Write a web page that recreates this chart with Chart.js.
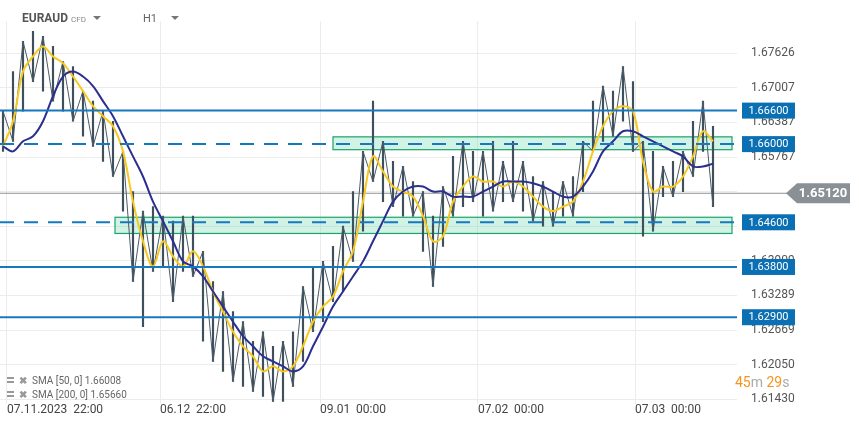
<!DOCTYPE html>
<html><head><meta charset="utf-8">
<script src="https://cdn.jsdelivr.net/npm/chart.js@4/dist/chart.umd.min.js"></script>
<style>body{margin:0;background:#fff}canvas{display:block}</style>
</head><body><canvas id="c" width="859" height="427"></canvas>
<script>
const highs=[1.6659,1.6730,1.6784,1.6802,1.6793,1.6775,1.6748,1.6739,1.6695,1.6677,1.6659,1.6641,1.6587,1.6515,1.6480,1.6488,1.6471,1.6462,1.6471,1.6471,1.6408,1.6354,1.6336,1.6300,1.6282,1.6247,1.6264,1.6238,1.6247,1.6264,1.6345,1.6381,1.6390,1.6417,1.6453,1.6515,1.6587,1.6677,1.6605,1.6569,1.6560,1.6533,1.6515,1.6471,1.6524,1.6578,1.6605,1.6587,1.6587,1.6605,1.6569,1.6605,1.6569,1.6542,1.6533,1.6515,1.6533,1.6542,1.6605,1.6677,1.6704,1.6695,1.6739,1.6712,1.6605,1.6587,1.6560,1.6569,1.6587,1.6641,1.6677,1.6632];
const lows=[1.6587,1.6605,1.6659,1.6712,1.6695,1.6677,1.6659,1.6641,1.6614,1.6596,1.6569,1.6542,1.6480,1.6354,1.6273,1.6372,1.6381,1.6318,1.6372,1.6363,1.6247,1.6211,1.6193,1.6175,1.6166,1.6157,1.6148,1.6139,1.6139,1.6166,1.6211,1.6264,1.6282,1.6318,1.6336,1.6390,1.6444,1.6533,1.6497,1.6488,1.6471,1.6471,1.6408,1.6345,1.6417,1.6471,1.6488,1.6497,1.6471,1.6480,1.6497,1.6497,1.6480,1.6462,1.6453,1.6453,1.6471,1.6471,1.6515,1.6587,1.6605,1.6614,1.6641,1.6587,1.6435,1.6444,1.6506,1.6506,1.6515,1.6542,1.6587,1.6488];
const sma50=[1.6596,1.6641,1.6730,1.6757,1.6775,1.6757,1.6745,1.6721,1.6695,1.6668,1.6650,1.6632,1.6587,1.6497,1.6426,1.6381,1.6426,1.6399,1.6381,1.6408,1.6381,1.6336,1.6300,1.6264,1.6238,1.6220,1.6193,1.6202,1.6193,1.6202,1.6238,1.6282,1.6309,1.6327,1.6372,1.6408,1.6497,1.6578,1.6551,1.6524,1.6515,1.6506,1.6471,1.6426,1.6435,1.6497,1.6524,1.6542,1.6533,1.6533,1.6524,1.6533,1.6524,1.6506,1.6488,1.6480,1.6488,1.6497,1.6533,1.6587,1.6632,1.6659,1.6668,1.6659,1.6569,1.6515,1.6524,1.6524,1.6542,1.6578,1.6623,1.6605];
const sma200=[1.6596,1.6587,1.6605,1.6614,1.6641,1.6686,1.6721,1.6730,1.6721,1.6704,1.6677,1.6650,1.6614,1.6578,1.6542,1.6497,1.6462,1.6426,1.6390,1.6381,1.6363,1.6336,1.6309,1.6282,1.6256,1.6238,1.6220,1.6211,1.6202,1.6193,1.6202,1.6238,1.6273,1.6309,1.6336,1.6363,1.6390,1.6426,1.6462,1.6497,1.6515,1.6524,1.6524,1.6515,1.6515,1.6506,1.6506,1.6506,1.6515,1.6524,1.6533,1.6533,1.6533,1.6530,1.6524,1.6515,1.6506,1.6506,1.6524,1.6551,1.6587,1.6605,1.6623,1.6623,1.6614,1.6605,1.6596,1.6587,1.6578,1.6560,1.6560,1.6565];
const yTicks=[1.67626,1.67007,1.66387,1.65767,1.65147,1.64528,1.63909,1.63289,1.62669,1.62050,1.61430];
const dateTicks=[0.4,15.7,31.7,47.5,63.2];
const dateLabels=["07.11.2023  22:00","06.12  22:00","09.01  00:00","07.02  00:00","07.03  00:00"];
const solidLevels=[1.66600,1.63800,1.62900];
const dashedLevels=[1.66000,1.64600];
const zones=[{x0:33.0,lo:1.6590,hi:1.6613},{x0:11.2,lo:1.6440,hi:1.6469}];
const zoneEnd=72.9;
const lastPrice=1.65120;

const idx=highs.map((_,i)=>i);
const bars=idx.map(i=>({x:i,y:[lows[i],highs[i]]}));
const zig=idx.map(i=>({x:i,y:i%2?lows[i]:highs[i]}));

const overlay={id:'ov',
 beforeDatasetsDraw(ch){const c=ch.ctx,a=ch.chartArea,x=ch.scales.x,y=ch.scales.y;c.save();
  zones.forEach(z=>{const x0=x.getPixelForValue(z.x0),x1=x.getPixelForValue(zoneEnd),y0=y.getPixelForValue(z.hi),y1=y.getPixelForValue(z.lo);
   c.fillStyle='rgba(120,220,180,0.35)';c.fillRect(x0,y0,x1-x0,y1-y0);c.strokeStyle='#1aa36b';c.lineWidth=1.2;c.strokeRect(x0,y0,x1-x0,y1-y0);});
  const yl=y.getPixelForValue(lastPrice);c.strokeStyle='#8a9196';c.lineWidth=1;c.beginPath();c.moveTo(a.left,yl);c.lineTo(790,yl);c.stroke();
  c.restore();},
 afterDatasetsDraw(ch){const c=ch.ctx,a=ch.chartArea,y=ch.scales.y;c.save();
  c.strokeStyle='#1679bf';c.lineWidth=2;
  solidLevels.forEach(v=>{const p=y.getPixelForValue(v);c.beginPath();c.moveTo(a.left,p);c.lineTo(737,p);c.stroke();});
  c.setLineDash([14,10]);
  dashedLevels.forEach(v=>{const p=y.getPixelForValue(v);c.beginPath();c.moveTo(a.left,p);c.lineTo(737,p);c.stroke();});
  c.setLineDash([]);
  c.font='11px Roboto';c.textBaseline='middle';c.textAlign='center';
  solidLevels.concat(dashedLevels).forEach(v=>{const p=y.getPixelForValue(v);c.fillStyle='#0a6fb3';c.fillRect(742,p-8,53,16);c.fillStyle='#fff';c.fillText(v.toFixed(5),768.5,p+0.5);});
  const yl=y.getPixelForValue(lastPrice);c.fillStyle='#8a9196';c.beginPath();c.moveTo(786,yl);c.lineTo(797,yl-10);c.lineTo(850,yl-10);c.lineTo(850,yl+10);c.lineTo(797,yl+10);c.closePath();c.fill();
  c.fillStyle='#fff';c.font='bold 13px Roboto';c.fillText(lastPrice.toFixed(5),823,yl+0.5);
  c.fillStyle='#444';c.font='12px Roboto';c.textAlign='left';
  dateTicks.forEach((t,i)=>c.fillText(dateLabels[i],ch.scales.x.getPixelForValue(t),410));
  c.fillStyle='#555';c.font='bold 12px Roboto';c.fillText('EURAUD',22,19);
  c.font='8px Roboto';c.fillStyle='#888';c.fillText('CFD',71,20);
  c.fillStyle='#777';[[97,16],[175,16]].forEach(([tx,ty])=>{c.beginPath();c.moveTo(tx-4,ty);c.lineTo(tx+4,ty);c.lineTo(tx,ty+4);c.closePath();c.fill();});
  c.font='11px Roboto';c.fillStyle='#666';c.fillText('H1',143,19);
  [['SMA [50, 0] 1.66008',381],['SMA [200, 0] 1.65660',395]].forEach(([s,ty])=>{c.fillStyle='#999';c.fillRect(7,ty-4,7,2);c.fillRect(7,ty,7,2);c.font='bold 10px Roboto';c.fillText('✖',19,ty);c.font='10px Roboto';c.fillStyle='#666';c.fillText(s,32,ty);});
  c.font='14px Roboto';let tx=735;[['45','#f7941d'],['m','#aaa'],[' 29','#f7941d'],['s','#aaa']].forEach(([s,col])=>{c.fillStyle=col;c.fillText(s,tx,383);tx+=c.measureText(s).width;});
  c.restore();}
};

new Chart(document.getElementById('c'),{
 data:{datasets:[
  {type:'bar',data:bars,backgroundColor:'#3f505c',barThickness:1.5,order:4},
  {type:'line',data:zig,borderColor:'#4b5b67',borderWidth:1,pointRadius:0,order:3},
  {type:'line',data:idx.map(i=>({x:i,y:sma50[i]})),borderColor:'#f7c81e',borderWidth:2,pointRadius:0,tension:0.35,order:2},
  {type:'line',data:idx.map(i=>({x:i,y:sma200[i]})),borderColor:'#2b2f8f',borderWidth:2,pointRadius:0,tension:0.35,order:1}
 ]},
 plugins:[overlay],
 options:{responsive:false,animation:false,
  layout:{padding:{top:5,bottom:23,left:0,right:0}},
  plugins:{legend:{display:false},tooltip:{enabled:false}},
  scales:{
   x:{type:'linear',offset:false,min:-0.3,max:73.4,ticks:{display:false},border:{display:false},
      afterBuildTicks:s=>{s.ticks=dateTicks.map(v=>({value:v}));},grid:{color:'#ececec',drawTicks:false,offset:false}},
   y:{position:'right',min:1.61346,max:1.68201,border:{display:false},
      afterBuildTicks:s=>{s.ticks=yTicks.map(v=>({value:v}));},
      afterFit:s=>{s.width=122;},
      ticks:{color:'#555',font:{size:12,family:'Roboto'},padding:14,callback:v=>Math.abs(v-lastPrice)<0.0005?'':v.toFixed(5)},
      grid:{color:'#ececec',drawTicks:false}}
  }}
});
</script></body></html>
